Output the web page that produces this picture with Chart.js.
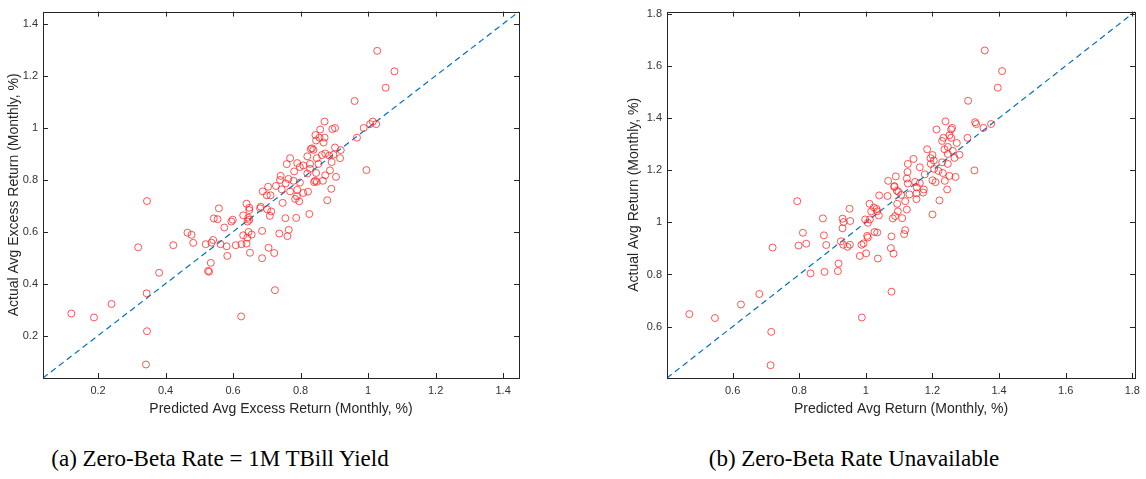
<!DOCTYPE html>
<html>
<head>
<meta charset="utf-8">
<script src="https://cdn.jsdelivr.net/npm/chart.js@4.4.1/dist/chart.umd.min.js"></script>
<style>
  body { margin: 0; background: #fff; }
  #wrap { position: relative; width: 1146px; height: 479px; overflow: hidden; }
  canvas { position: absolute; top: 0; }
  #chartA { left: 0; }
  #chartB { left: 620px; }
  .caption {
    position: absolute; top: 446px; width: 520px; text-align: center;
    font-family: "Liberation Serif", "DejaVu Serif", serif; font-size: 23px; color: #000;
  }
</style>
</head>
<body>
<div id="wrap">
  <canvas id="chartA" width="530" height="420"></canvas>
  <canvas id="chartB" width="526" height="420"></canvas>
  <div class="caption" style="left: -40px;">(a) Zero-Beta Rate = 1M TBill Yield</div>
  <div class="caption" style="left: 594px;">(b) Zero-Beta Rate Unavailable</div>
</div>
<script>
/*===== DATA: (a) zero-beta rate = 1M TBill yield =====*/
const predA = [
  0.121, 0.188, 0.240, 0.319, 0.345, 0.344, 0.345, 0.342, 0.381, 0.423, 0.465, 0.624,
  1.027, 1.078, 1.052,
  0.960, 1.014, 1.024, 1.006, 0.987, 0.967, 0.995, 0.871, 0.858, 0.894, 0.902, 0.844,
  0.856, 0.871, 0.868, 0.846, 0.830, 0.838, 0.834, 0.902, 0.919, 0.873, 0.885, 0.897,
  0.863, 0.820, 0.848, 0.917, 0.892, 0.769, 0.759, 0.790, 0.808, 0.798, 0.828, 0.853,
  0.828, 0.846, 0.820, 0.887, 0.873, 0.905, 0.781, 0.741, 0.739, 0.764, 0.779, 0.798,
  0.756, 0.727, 0.704, 0.744, 0.769, 0.790, 0.808, 0.822, 0.843, 0.840, 0.848, 0.866,
  0.891, 0.879, 0.789, 0.796, 0.784, 0.747, 0.688, 0.700, 0.711, 0.640, 0.648, 0.648,
  0.682, 0.680, 0.701, 0.713, 0.709, 0.630, 0.645, 0.643, 0.648, 0.599, 0.595, 0.543,
  0.554, 0.558, 0.574, 0.755, 0.787, 0.826, 0.686, 0.765, 0.737, 0.761, 0.646, 0.655,
  0.630, 0.642, 0.541, 0.477, 0.482, 0.519, 0.536, 0.563, 0.581, 0.608, 0.625, 0.640,
  0.705, 0.650, 0.722, 0.583, 0.686, 0.534, 0.526, 0.529, 0.724
];
const actualA = [
  0.285, 0.270, 0.322, 0.540, 0.718, 0.363, 0.217, 0.089, 0.442, 0.548, 0.596, 0.274,
  1.296, 1.217, 1.154,
  1.103, 1.024, 1.014, 1.014, 0.999, 0.962, 0.837, 1.024, 0.993, 0.995, 0.999, 0.972,
  0.962, 0.962, 0.943, 0.951, 0.918, 0.915, 0.921, 0.924, 0.914, 0.901, 0.893, 0.896,
  0.895, 0.890, 0.883, 0.883, 0.868, 0.883, 0.860, 0.864, 0.855, 0.849, 0.861, 0.861,
  0.842, 0.826, 0.824, 0.836, 0.817, 0.811, 0.832, 0.815, 0.799, 0.803, 0.796, 0.789,
  0.786, 0.776, 0.773, 0.763, 0.755, 0.761, 0.749, 0.754, 0.796, 0.791, 0.792, 0.796,
  0.765, 0.721, 0.736, 0.717, 0.726, 0.711, 0.755, 0.740, 0.740, 0.708, 0.692, 0.683,
  0.696, 0.690, 0.686, 0.678, 0.661, 0.663, 0.654, 0.639, 0.646, 0.646, 0.639, 0.651,
  0.648, 0.690, 0.616, 0.652, 0.653, 0.668, 0.603, 0.607, 0.593, 0.583, 0.599, 0.589,
  0.586, 0.577, 0.568, 0.588, 0.557, 0.552, 0.558, 0.552, 0.544, 0.548, 0.552, 0.554,
  0.538, 0.519, 0.518, 0.507, 0.498, 0.480, 0.449, 0.446, 0.375
];
const rangeA = [0.037, 1.447];
const ticksA = [0.2, 0.4, 0.6, 0.8, 1, 1.2, 1.4];

/*===== DATA: (b) zero-beta rate unavailable =====*/
const predB = [
  0.470, 0.547, 0.625, 0.680, 0.716, 0.714, 0.720, 0.794, 0.798, 0.811, 0.821, 0.834,
  0.988, 1.077, 0.945, 1.006,
  1.357, 1.409,
  1.396, 1.307, 1.239, 1.328, 1.331, 1.376, 1.353, 1.259, 1.256, 1.212, 1.251, 1.233,
  1.256, 1.229, 1.305, 1.273, 1.184, 1.236, 1.246, 1.261, 1.246, 1.281, 1.266, 1.200,
  1.194, 1.143, 1.204, 1.229, 1.246, 1.195, 1.126, 1.162, 1.205, 1.218, 1.231, 1.269,
  1.251, 1.326, 1.125, 1.090, 1.177, 1.200, 1.209, 1.237, 1.123, 1.148, 1.162, 1.126,
  1.067, 1.086, 1.093, 1.098, 1.085, 1.153, 1.174, 1.152, 1.172, 1.131, 1.106, 1.065,
  1.040, 1.152, 1.244, 1.221, 1.200, 1.094, 1.118, 1.123, 1.096, 1.088, 1.081, 1.109,
  1.011, 1.024, 1.032, 1.034, 1.016, 1.039, 1.012, 0.998, 0.951, 0.930, 0.933, 0.953,
  0.930, 0.871, 0.874, 0.881, 0.925, 0.932, 0.952, 0.987, 0.993, 1.004, 1.006, 1.026,
  1.034, 1.077, 1.118, 1.115, 1.075, 1.083, 1.036, 0.982, 1.001, 0.918, 0.916, 0.876
];
const actualB = [
  0.648, 0.633, 0.685, 0.725, 0.580, 0.452, 0.903, 1.081, 0.911, 0.960, 0.918, 0.804,
  0.635, 0.734, 0.906, 0.998,
  1.659, 1.580,
  1.516, 1.466, 1.387, 1.384, 1.377, 1.377, 1.362, 1.362, 1.356, 1.356, 1.334, 1.324,
  1.324, 1.312, 1.324, 1.304, 1.280, 1.280, 1.289, 1.274, 1.262, 1.259, 1.247, 1.258,
  1.246, 1.243, 1.237, 1.230, 1.224, 1.224, 1.224, 1.211, 1.205, 1.197, 1.189, 1.174,
  1.178, 1.199, 1.193, 1.176, 1.184, 1.161, 1.154, 1.159, 1.168, 1.155, 1.151, 1.149,
  1.159, 1.139, 1.121, 1.117, 1.136, 1.134, 1.126, 1.111, 1.114, 1.107, 1.105, 1.101,
  1.103, 1.089, 1.126, 1.084, 1.030, 1.071, 1.081, 1.049, 1.042, 1.024, 1.015, 1.016,
  1.071, 1.057, 1.051, 1.042, 1.042, 1.026, 1.011, 1.011, 1.052, 1.014, 1.001, 1.005,
  0.977, 1.015, 0.950, 0.913, 0.927, 0.914, 0.914, 0.914, 0.919, 0.948, 0.942, 0.963,
  0.961, 0.946, 0.970, 0.955, 0.901, 0.880, 0.861, 0.871, 0.881, 0.842, 0.813, 0.810
];
const rangeB = [0.403, 1.808];
const ticksB = [0.6, 0.8, 1, 1.2, 1.4, 1.6, 1.8];

/*===== STYLE =====*/
Chart.defaults.font.family = '"Liberation Sans", Arial, Helvetica, sans-serif';
Chart.defaults.color = '#333';
const axisColor = '#262626';

// MATLAB-like box with inward ticks on all four sides
const matlabBox = {
  id: 'matlabBox',
  afterDraw(chart) {
    const { ctx, chartArea: a, scales } = chart;
    const len = 5;
    ctx.save();
    ctx.strokeStyle = axisColor;
    ctx.lineWidth = 1;
    ctx.strokeRect(Math.round(a.left) + 0.5, Math.round(a.top) + 0.5,
      Math.round(a.width), Math.round(a.height));
    ctx.beginPath();
    scales.x.ticks.forEach((t) => {
      const px = Math.round(scales.x.getPixelForValue(t.value)) + 0.5;
      ctx.moveTo(px, a.bottom); ctx.lineTo(px, a.bottom - len);
      ctx.moveTo(px, a.top); ctx.lineTo(px, a.top + len);
    });
    scales.y.ticks.forEach((t) => {
      const py = Math.round(scales.y.getPixelForValue(t.value)) + 0.5;
      ctx.moveTo(a.left, py); ctx.lineTo(a.left + len, py);
      ctx.moveTo(a.right, py); ctx.lineTo(a.right - len, py);
    });
    ctx.stroke();
    ctx.restore();
  }
};

function makeScatter(canvasId, xs, ys, range, tickVals, xTitle, yTitle, yWidth, padRight) {
  const points = xs.map((x, i) => ({ x: x, y: ys[i] }));
  const fmt = (v) => String(Math.round(v * 10) / 10);
  const axis = (title, isX) => ({
    type: 'linear',
    min: range[0],
    max: range[1],
    afterBuildTicks: (scale) => { scale.ticks = tickVals.map((v) => ({ value: v })); },
    afterFit: (scale) => {
      if (isX) scale.height = 420 - 378;
      else scale.width = yWidth;
    },
    grid: { display: false, drawTicks: false, tickLength: 0 },
    border: { display: false },
    ticks: {
      padding: isX ? 6 : 5,
      font: { size: 11 },
      color: '#333',
      maxRotation: 0,
      callback: (v) => fmt(v)
    },
    title: {
      display: true,
      text: title,
      font: { size: 14 },
      color: '#262626',
      padding: isX ? { top: 0, bottom: 2 } : { top: 6, bottom: 0 }
    }
  });

  return new Chart(document.getElementById(canvasId), {
    type: 'scatter',
    data: {
      datasets: [
        {
          data: points,
          pointStyle: 'circle',
          pointRadius: 3.5,
          pointBorderWidth: 1,
          pointBorderColor: 'rgba(255, 30, 30, 0.75)',
          pointBackgroundColor: 'rgba(0, 0, 0, 0)'
        },
        {
          data: [{ x: range[0], y: range[0] }, { x: range[1], y: range[1] }],
          showLine: true,
          pointRadius: 0,
          borderColor: '#0072BD',
          borderWidth: 1.2,
          borderDash: [6, 4]
        }
      ]
    },
    options: {
      responsive: false,
      animation: false,
      devicePixelRatio: 1,
      layout: { padding: { top: 4, right: padRight, left: 0, bottom: 0 } },
      plugins: { legend: { display: false }, tooltip: { enabled: false } },
      scales: { x: axis(xTitle, true), y: axis(yTitle, false) }
    },
    plugins: [matlabBox]
  });
}

makeScatter('chartA', predA, actualA, rangeA, ticksA,
  'Predicted Avg Excess Return (Monthly, %)', 'Actual Avg Excess Return (Monthly, %)', 43, 11);
makeScatter('chartB', predB, actualB, rangeB, ticksB,
  'Predicted Avg Return (Monthly, %)', 'Actual Avg Return (Monthly, %)', 47, 5);
</script>
</body>
</html>
